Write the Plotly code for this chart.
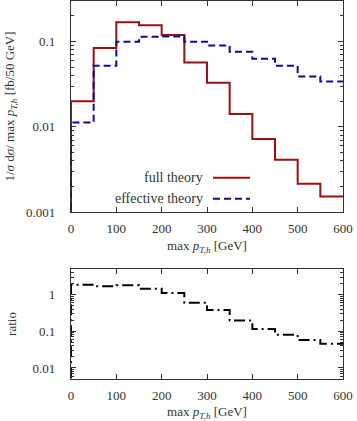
import plotly.graph_objects as go
from plotly.subplots import make_subplots

# bin edges in max pT,h (GeV), 50 GeV bins
edges = [0, 50, 100, 150, 200, 250, 300, 350, 400, 450, 500, 550, 600]
full_theory = [0.020, 0.084, 0.169, 0.156, 0.120, 0.057, 0.033, 0.0141, 0.0072, 0.0041, 0.00214, 0.00152]
effective_theory = [0.0112, 0.052, 0.100, 0.114, 0.115, 0.100, 0.090, 0.076, 0.063, 0.052, 0.039, 0.034]
ratio = [1.85, 1.70, 1.80, 1.45, 1.10, 0.60, 0.38, 0.197, 0.116, 0.081, 0.058, 0.046]

top_ticks = [0.001, 0.01, 0.1]
top_ticktext = ['0.001', '0.01', '0.1']
bot_ticks = [0.01, 0.1, 1]
bot_ticktext = ['0.01', '0.1', '1']
x_ticks = [0, 100, 200, 300, 400, 500, 600]
minor_ticks = [k * 10.0 ** e for e in range(-3, 1) for k in range(2, 10)]

RED = '#a00d0d'
BLUE = '#0a0aa0'
FONT = 'Liberation Serif'


def step(vals, floor):
    # histogram outline starting from the axis floor
    return [edges[0]] + edges, [floor] + vals + [vals[-1]]


fig = make_subplots(rows=2, cols=1, row_heights=[0.7, 0.3], vertical_spacing=0.15)

x, y = step(full_theory, 1e-4)
fig.add_trace(go.Scatter(x=x, y=y, mode='lines', line=dict(color=RED, width=2, shape='hv'),
                         showlegend=False), row=1, col=1)
x, y = step(effective_theory, 1e-4)
fig.add_trace(go.Scatter(x=x, y=y, mode='lines', line=dict(color=BLUE, width=2, shape='hv', dash='7px,4px'),
                         showlegend=False), row=1, col=1)
x, y = step(ratio, 1e-4)
fig.add_trace(go.Scatter(x=x, y=y, mode='lines', line=dict(color='black', width=2, shape='hv', dash='11px,4px,2px,4px'),
                         showlegend=False), row=2, col=1)

axis_common = dict(showline=True, mirror='ticks', linecolor='#333', linewidth=1.3,
                   ticks='inside', ticklen=5, tickcolor='#333', showgrid=False, zeroline=False,
                   tickfont=dict(family=FONT, size=13, color='#333'))
xtitle = 'max <i>p</i><sub><i>T,h</i></sub> [GeV]'

fig.update_xaxes(range=[0, 600], tickvals=x_ticks, ticklabelstandoff=4,
                 title=dict(text=xtitle, font=dict(family=FONT, size=13, color='#333'), standoff=6),
                 **axis_common)
fig.update_yaxes(type='log', ticklabelstandoff=12,
                 minor=dict(ticks='inside', ticklen=3, tickcolor='#333', showgrid=False, tickvals=minor_ticks),
                 **axis_common)
fig.update_yaxes(range=[-3, -0.523], tickvals=top_ticks, ticktext=top_ticktext,
                 title=dict(text='1/<i>σ</i> d<i>σ</i>/ max <i>p</i><sub><i>T,h</i></sub> [fb/50 GeV]',
                            font=dict(family=FONT, size=13, color='#333'), standoff=8),
                 row=1, col=1)
fig.update_yaxes(range=[-2.301, 0.699], tickvals=bot_ticks, ticktext=bot_ticktext,
                 title=dict(text='ratio', font=dict(family=FONT, size=13, color='#333'), standoff=12),
                 row=2, col=1)

fig.update_layout(
    width=357, height=421,
    margin=dict(l=71, r=14, t=1, b=42),
    plot_bgcolor='white', paper_bgcolor='white',
    yaxis=dict(domain=[0.4418, 1.0]),
    yaxis2=dict(domain=[0.0, 0.291]),
)

# legend: text on the left, line sample on the right
legend_items = [('full theory', RED, 'solid', 0.5326), ('effective theory', BLUE, '7px,4px', 0.4770)]
for label, color, dash, yy in legend_items:
    fig.add_annotation(xref='paper', yref='paper', x=0.493, y=yy, xanchor='right', yanchor='middle',
                       text=label, showarrow=False, font=dict(family=FONT, size=14, color='#333'))
    fig.add_shape(type='line', xref='paper', yref='paper', x0=0.522, x1=0.658, y0=yy, y1=yy,
                  line=dict(color=color, width=2, dash=dash))

fig.write_html("out.html", config={'displayModeBar': False},
               post_script="document.body.style.margin='0';")
